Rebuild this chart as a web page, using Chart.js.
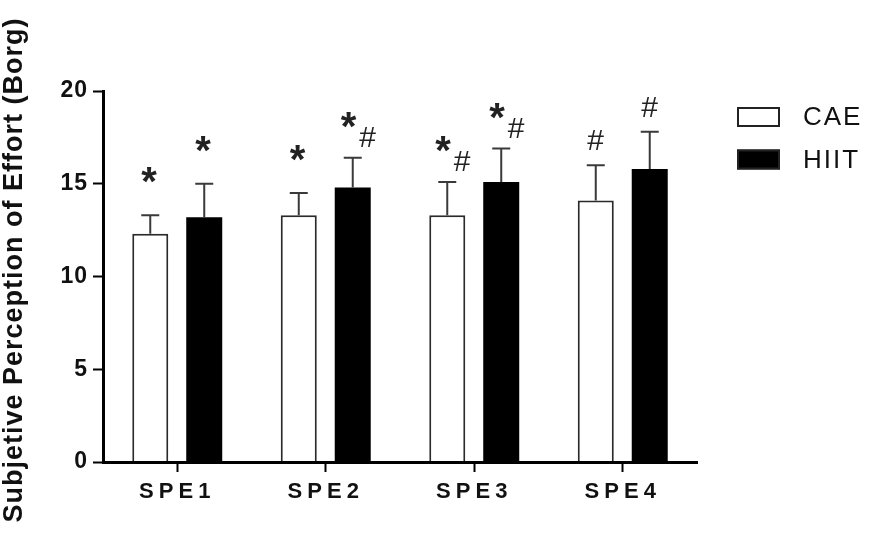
<!DOCTYPE html>
<html>
<head>
<meta charset="utf-8">
<script src="https://cdn.jsdelivr.net/npm/chart.js@4"></script>
<style>
  html, body { margin: 0; padding: 0; background: #fff; }
  #chart { display: block; }
</style>
</head>
<body>
<canvas id="chart" width="870" height="540"></canvas>
<script>
// Borg rating per session: mean and SD for each group
const sessions = ['SPE1', 'SPE2', 'SPE3', 'SPE4'];
const caeMean  = [12.3, 13.3, 13.3, 14.1];
const caeSd    = [1.0, 1.2, 1.8, 1.9];
const hiitMean = [13.2, 14.8, 15.1, 15.8];
const hiitSd   = [1.8, 1.6, 1.8, 2.0];
// significance marks over each bar
const caeMarks  = ['*', '*', '*#', '#'];
const hiitMarks = ['*', '*#', '*#', '#'];
const yTicks = [0, 5, 10, 15, 20];
const yTitle = 'Subjetive Perception of Effort (Borg)';

const FONT = '"Liberation Sans", Arial, Helvetica, sans-serif';

function glyph(ctx, ch, cx, cy) {
  ctx.font = ch === '*' ? `bold 40px ${FONT}` : `30px ${FONT}`;
  const m = ctx.measureText(ch);
  const x = cx - (m.actualBoundingBoxRight - m.actualBoundingBoxLeft) / 2;
  const y = cy + (m.actualBoundingBoxAscent - m.actualBoundingBoxDescent) / 2;
  ctx.fillText(ch, x, y);
}

function drawMarks(ctx, marks, x, top) {
  if (marks === '*') glyph(ctx, '*', x - 1, top - 40);
  else if (marks === '#') glyph(ctx, '#', x, top - 25);
  else if (marks === '*#') { glyph(ctx, '*', x - 4, top - 38); glyph(ctx, '#', x + 15, top - 21); }
}

function drawLegend(chart) {
  const ctx = chart.ctx;
  ctx.save();
  ctx.letterSpacing = '2px';
  ctx.textBaseline = 'middle';
  ctx.font = `26px ${FONT}`;
  chart.data.datasets.forEach((ds, i) => {
    const cy = 117 + i * 42.5;
    ctx.fillStyle = ds.backgroundColor;
    ctx.fillRect(737, cy - 10, 43, 20);
    ctx.strokeStyle = '#222'; ctx.lineWidth = 2;
    ctx.strokeRect(738, cy - 9, 41, 18);
    ctx.fillStyle = '#111';
    ctx.fillText(ds.label, 803, cy + 1);
  });
  ctx.restore();
}

const extras = {
  id: 'extras',
  beforeDraw(chart) {
    const ctx = chart.ctx;
    ctx.letterSpacing = '1px';
    // y title drawn by hand: the built-in one is squeezed to the axis height
    ctx.save();
    ctx.translate(15, 270);
    ctx.rotate(-Math.PI / 2);
    ctx.font = `bold 27px ${FONT}`;
    ctx.fillStyle = '#111';
    ctx.textAlign = 'center';
    ctx.textBaseline = 'middle';
    ctx.fillText(yTitle, 0, 0);
    ctx.restore();
  },
  afterDatasetsDraw(chart) {
    const ctx = chart.ctx;
    const y = chart.scales.y;
    ctx.save();
    ctx.letterSpacing = '0px';
    chart.data.datasets.forEach((ds, di) => {
      chart.getDatasetMeta(di).data.forEach((bar, i) => {
        const top = y.getPixelForValue(ds.data[i] + ds.sd[i]);
        ctx.strokeStyle = '#3a3a3a';
        ctx.lineWidth = 2;
        ctx.beginPath();
        ctx.moveTo(bar.x, bar.y); ctx.lineTo(bar.x, top);
        ctx.moveTo(bar.x - 9, top); ctx.lineTo(bar.x + 9, top);
        ctx.stroke();
        ctx.fillStyle = '#222';
        drawMarks(ctx, ds.marks[i], bar.x, top);
      });
    });
    ctx.restore();
    ctx.letterSpacing = '5px'; // x labels are drawn after this (ticks.z = 1)
  },
  afterDraw(chart) {
    chart.ctx.letterSpacing = '0px';
    drawLegend(chart);
  }
};

new Chart(document.getElementById('chart'), {
  type: 'bar',
  data: {
    labels: sessions,
    datasets: [
      { label: 'CAE', data: caeMean, sd: caeSd, marks: caeMarks, backgroundColor: '#fff', borderColor: '#2a2a2a', borderWidth: 2,
        categoryPercentage: 0.727, barPercentage: 0.667 },
      { label: 'HIIT', data: hiitMean, sd: hiitSd, marks: hiitMarks, backgroundColor: '#000', borderColor: '#000', borderWidth: 0,
        categoryPercentage: 0.727, barPercentage: 0.667 }
    ]
  },
  options: {
    responsive: false,
    animation: false,
    devicePixelRatio: 1,
    layout: { padding: { left: 0, right: 173, top: 91, bottom: 0 } },
    plugins: { legend: { display: false }, tooltip: { enabled: false } },
    scales: {
      x: {
        afterFit: s => { s.height = 78; },
        grid: { offset: false, drawOnChartArea: false, drawTicks: true, tickLength: 10, tickWidth: 2, tickColor: '#000' },
        border: { display: true, color: '#000', width: 3, z: 1 },
        ticks: { z: 1, color: '#111', padding: 7, maxRotation: 0, font: { family: FONT, size: 22, weight: 'bold' } }
      },
      y: {
        min: 0, max: 20,
        afterFit: s => { s.width = 103; },
        afterBuildTicks: s => { s.ticks = yTicks.map(v => ({ value: v })); },
        grid: { drawOnChartArea: false, drawTicks: true, tickLength: 10, tickWidth: 2, tickColor: '#000' },
        border: { display: true, color: '#000', width: 3 },
        ticks: { color: '#111', padding: 5, font: { family: FONT, size: 23, weight: 'bold' } }
      }
    }
  },
  plugins: [extras]
});
</script>
</body>
</html>
